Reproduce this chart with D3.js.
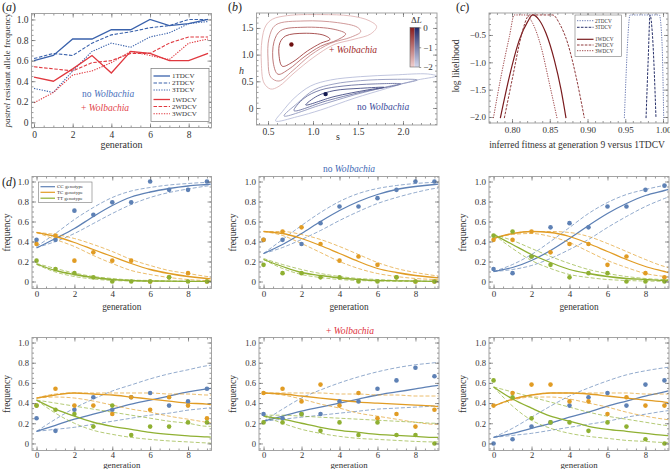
<!DOCTYPE html>
<html><head><meta charset="utf-8">
<script src="https://cdn.jsdelivr.net/npm/d3@7"></script>
<style>
body{margin:0;background:#fff}
svg text{font-family:"Liberation Serif","DejaVu Serif",serif;}
</style></head><body>
<svg id="c" width="670" height="469"></svg>
<script>
// ---------------- DATA ----------------
// Panel (a): pastrel resistant allele frequency per generation
const gens = [0,1,2,3,4,5,6,7,8,9];
const tdcv1 = [0.60,0.65,0.81,0.81,0.90,0.90,1.00,0.94,0.96,1.00];
const tdcv2 = [0.62,0.67,0.65,0.77,0.85,0.88,0.92,0.94,1.00,1.00];
const tdcv3 = [0.33,0.29,0.50,0.69,0.77,0.73,0.83,0.87,0.96,0.98];
const wdcv1 = [0.44,0.40,0.52,0.65,0.48,0.69,0.67,0.60,0.60,0.67];
const wdcv2 = [0.54,0.52,0.50,0.58,0.60,0.67,0.67,0.77,0.83,0.83];
const wdcv3 = [0.19,0.29,0.46,0.50,0.58,0.69,0.65,0.61,0.77,0.81];
const seriesNamesA = ['1TDCV','2TDCV','3TDCV','1WDCV','2WDCV','3WDCV'];
const genTicks = [0,2,4,6,8];
const freqTicks = [0,0.2,0.4,0.6,0.8,1.0];

// Panel (b): likelihood contours in (s, h), levels of ΔL
const contourLevels = [-2,-1.5,-1,-0.5];
const redMax = [0.76,1.19];
const blueMax = [1.14,0.26];
const redC2  = [[0.548,1.6625],[0.715,1.731],[1.085,1.75],[1.419,1.725],[1.622,1.6375],[1.707,1.525],[1.641,1.3875],[1.456,1.2875],[1.233,1.187],[1.011,0.955],[0.789,0.655],[0.622,0.407],[0.530,0.355],[0.456,0.467],[0.426,0.842],[0.433,1.275],[0.474,1.5375]];
const redC15 = [[0.585,1.556],[0.9,1.631],[1.27,1.6],[1.493,1.5125],[1.53,1.431],[1.419,1.325],[1.196,1.2125],[0.974,0.992],[0.770,0.692],[0.622,0.505],[0.530,0.579],[0.5,0.917],[0.511,1.306]];
const redC1  = [[0.641,1.45],[0.9,1.5125],[1.233,1.475],[1.363,1.3875],[1.27,1.275],[1.085,1.157],[0.9,0.955],[0.733,0.729],[0.611,0.632],[0.559,0.842],[0.567,1.244]];
const redC05 = [[0.696,1.35],[0.9,1.4],[1.122,1.3625],[1.189,1.2875],[1.085,1.2125],[0.937,1.067],[0.770,0.857],[0.659,0.782],[0.622,0.992],[0.633,1.225]];
const blueC2  = [[0.585,-0.244],[0.826,-0.1625],[1.085,-0.0375],[1.456,0.181],[1.826,0.369],[2.122,0.5125],[2.374,0.6],[2.27,0.6375],[1.9,0.619],[1.53,0.5875],[1.196,0.525],[0.974,0.4125],[0.789,0.181],[0.659,-0.069]];
const blueC15 = [[0.678,-0.15],[1.085,0.056],[1.456,0.244],[1.826,0.4],[2.159,0.525],[1.9,0.5375],[1.53,0.5125],[1.233,0.45],[1.011,0.3375],[0.826,0.0875]];
const blueC1  = [[0.789,-0.05],[1.159,0.1375],[1.53,0.294],[1.974,0.45],[1.678,0.45],[1.344,0.4125],[1.085,0.3375],[0.9,0.181]];
const blueC05 = [[0.919,0.056],[1.233,0.2125],[1.604,0.3375],[1.789,0.3875],[1.53,0.369],[1.233,0.325],[1.048,0.225]];
const sTicks = [0.5,1.0,1.5,2.0];
const hTicks = [0,0.5,1.0,1.5];
const barTicks = [0,-1,-2];

// Panel (c): profile log likelihood vs inferred fitness
const c2TDCV = [[0.9488,-2.02],[0.951,-1.26],[0.9532,-0.6],[0.9563,-0.134],[0.9951,-0.134],[0.9987,-0.65],[1.0009,-2.02]];
const c3TDCV = [[0.9775,-2.02],[0.9805,-0.9],[0.9828,-0.134],[0.986,-0.5],[0.9907,-2.02]];
const c1WDCV = [[0.7845,-2.02],[0.7965,-1.26],[0.8097,-0.59],[0.8207,-0.256],[0.8274,-0.134],[0.836,-0.226],[0.845,-0.47],[0.856,-0.957],[0.865,-1.506],[0.8715,-2.02]];
const c2WDCV = [[0.7898,-2.02],[0.801,-1.26],[0.812,-0.53],[0.8207,-0.165],[0.823,-0.134],[0.854,-0.134],[0.8627,-0.287],[0.8737,-0.65],[0.8848,-1.26],[0.8958,-2.02]];
const c3WDCV = [[0.7753,-2.02],[0.7854,-1.26],[0.7965,-0.53],[0.803,-0.134],[0.8185,-0.134],[0.8274,-0.287],[0.8384,-0.713],[0.8494,-1.38],[0.8596,-2.02]];
const fitTicks = [0.80,0.85,0.90,0.95,1.00];
const llTicks = [-0.5,-1.0,-1.5,-2.0];

// Panel (d): genotype counts (out of N) per replicate, and fitted curves
const N = 24;
const replicateOrder = ['1TDCV','2TDCV','3TDCV','1WDCV','2WDCV','3WDCV'];
const ccCounts = [
 [10,10,17,16,19,19,24,22,22,24],
 [10,10,9,14,18,18,20,22,24,24],
 [3,2,6,13,14,13,18,18,22,23],
 [6,3,8,11,8,11,12,9,10,13],
 [7,6,7,7,10,10,13,15,18,16],
 [0,1,4,5,9,11,12,9,14,15]];
const tcCounts = [
 [9,11,5,7,5,5,0,1,2,0],
 [10,12,13,9,5,6,4,1,0,0],
 [10,10,12,7,9,9,4,6,2,1],
 [9,13,9,9,7,11,8,11,9,6],
 [12,13,10,14,9,12,6,7,4,8],
 [9,12,14,14,10,10,7,11,9,9]];
const ttCounts = [
 [5,3,2,1,0,0,0,1,0,0],
 [4,2,2,1,1,0,0,1,0,0],
 [11,12,6,4,1,2,2,0,0,0],
 [9,8,7,4,9,2,4,4,5,5],
 [5,5,7,3,5,2,5,2,2,0],
 [15,11,6,5,5,3,5,4,1,0]];
const fitGens = [0,1,2,3,4,5,6,7,8,9,9.2];
const ccFit = [
 [0.335,0.43,0.53,0.65,0.76,0.845,0.895,0.93,0.955,0.97,0.973],
 [0.28,0.37,0.48,0.60,0.71,0.80,0.87,0.92,0.95,0.97,0.973],
 [0.10,0.14,0.21,0.31,0.43,0.56,0.68,0.78,0.86,0.91,0.92],
 [0.12,0.18,0.24,0.29,0.34,0.39,0.43,0.47,0.51,0.54,0.545],
 [0.22,0.27,0.32,0.36,0.40,0.44,0.48,0.51,0.54,0.57,0.575],
 [0.06,0.10,0.15,0.20,0.26,0.31,0.37,0.42,0.47,0.51,0.52]];
const ccUp = [
 [0.35,0.48,0.62,0.74,0.84,0.905,0.94,0.965,0.98,0.99,0.99],
 [0.28,0.42,0.56,0.69,0.80,0.88,0.93,0.96,0.98,0.99,0.99],
 [0.10,0.17,0.27,0.40,0.54,0.68,0.79,0.87,0.92,0.96,0.965],
 [0.12,0.24,0.35,0.44,0.52,0.58,0.64,0.69,0.73,0.77,0.775],
 [0.22,0.34,0.45,0.53,0.60,0.66,0.71,0.75,0.78,0.80,0.805],
 [0.06,0.15,0.26,0.37,0.47,0.55,0.62,0.68,0.72,0.75,0.755]];
const ccLo = [
 [0.34,0.40,0.48,0.58,0.68,0.77,0.84,0.89,0.925,0.955,0.96],
 [0.28,0.34,0.42,0.51,0.61,0.70,0.78,0.84,0.89,0.93,0.935],
 [0.10,0.12,0.16,0.23,0.32,0.42,0.54,0.65,0.75,0.83,0.845],
 [0.12,0.14,0.16,0.19,0.22,0.25,0.28,0.30,0.33,0.35,0.355],
 [0.22,0.24,0.26,0.28,0.30,0.32,0.34,0.35,0.36,0.37,0.372],
 [0.06,0.08,0.10,0.13,0.16,0.19,0.22,0.26,0.29,0.32,0.325]];
const tcFit = [
 [0.49,0.45,0.39,0.32,0.25,0.18,0.12,0.08,0.05,0.03,0.027],
 [0.50,0.48,0.43,0.36,0.28,0.20,0.13,0.09,0.06,0.04,0.037],
 [0.43,0.48,0.50,0.49,0.45,0.38,0.30,0.22,0.15,0.10,0.09],
 [0.45,0.48,0.50,0.49,0.48,0.46,0.44,0.42,0.40,0.39,0.385],
 [0.50,0.49,0.47,0.45,0.43,0.41,0.40,0.39,0.38,0.37,0.365],
 [0.37,0.44,0.48,0.50,0.50,0.49,0.47,0.45,0.43,0.41,0.405]];
const tcUp = [
 [0.49,0.47,0.43,0.37,0.30,0.22,0.16,0.11,0.08,0.05,0.045],
 [0.50,0.50,0.47,0.42,0.35,0.27,0.19,0.13,0.09,0.06,0.055],
 [0.43,0.48,0.50,0.50,0.49,0.45,0.38,0.30,0.22,0.15,0.14],
 [0.45,0.49,0.50,0.50,0.50,0.50,0.50,0.49,0.49,0.48,0.48],
 [0.50,0.50,0.50,0.50,0.49,0.49,0.48,0.48,0.47,0.47,0.47],
 [0.37,0.44,0.48,0.50,0.50,0.50,0.50,0.50,0.49,0.49,0.49]];
const tcLo = [
 [0.49,0.42,0.35,0.26,0.18,0.11,0.07,0.04,0.02,0.01,0.01],
 [0.50,0.46,0.38,0.29,0.20,0.13,0.08,0.05,0.03,0.02,0.018],
 [0.43,0.47,0.48,0.45,0.39,0.30,0.21,0.14,0.08,0.05,0.045],
 [0.45,0.46,0.45,0.42,0.38,0.34,0.31,0.27,0.24,0.21,0.205],
 [0.50,0.48,0.44,0.39,0.35,0.30,0.27,0.24,0.21,0.19,0.19],
 [0.37,0.43,0.46,0.46,0.44,0.40,0.36,0.31,0.27,0.24,0.235]];
const ttFit = [
 [0.175,0.11,0.07,0.04,0.02,0.01,0.005,0.003,0.002,0.001,0.001],
 [0.22,0.15,0.09,0.06,0.035,0.02,0.01,0.007,0.004,0.002,0.002],
 [0.47,0.37,0.27,0.19,0.12,0.08,0.05,0.03,0.02,0.01,0.01],
 [0.43,0.34,0.27,0.21,0.17,0.14,0.11,0.09,0.075,0.065,0.063],
 [0.27,0.24,0.20,0.16,0.13,0.11,0.09,0.08,0.07,0.06,0.06],
 [0.56,0.44,0.35,0.27,0.22,0.17,0.14,0.12,0.10,0.08,0.078]];
const ttUp = [
 [0.18,0.13,0.085,0.05,0.03,0.015,0.01,0.005,0.003,0.002,0.002],
 [0.23,0.17,0.12,0.08,0.05,0.03,0.02,0.01,0.006,0.004,0.004],
 [0.47,0.41,0.33,0.25,0.18,0.12,0.08,0.05,0.03,0.02,0.02],
 [0.43,0.40,0.37,0.34,0.31,0.28,0.25,0.22,0.20,0.17,0.17],
 [0.28,0.28,0.27,0.26,0.25,0.24,0.23,0.22,0.21,0.20,0.20],
 [0.56,0.51,0.46,0.41,0.36,0.31,0.27,0.24,0.21,0.18,0.175]];
const ttLo = [
 [0.17,0.095,0.05,0.025,0.01,0.005,0.002,0.001,0,0,0],
 [0.22,0.13,0.07,0.04,0.02,0.01,0.005,0.002,0.001,0,0],
 [0.47,0.33,0.21,0.13,0.07,0.04,0.02,0.01,0.005,0.002,0.002],
 [0.43,0.30,0.20,0.13,0.09,0.06,0.04,0.025,0.015,0.005,0.004],
 [0.27,0.20,0.14,0.10,0.07,0.05,0.04,0.03,0.02,0.015,0.015],
 [0.56,0.37,0.23,0.15,0.10,0.07,0.05,0.03,0.02,0.01,0.01]];
const genotypeNames = ['CC genotype','TC genotype','TT genotype'];

// ---------------- DRAWING ----------------
const svg = d3.select('#c');
const FRAME = '#9a9a9a', TICK = '#555', TXT = '#333';
const SERIF = '"Liberation Serif","DejaVu Serif",serif';
let clipId = 0;

function minorTicks(domain, step){
  const [a,b] = domain[0] < domain[1] ? domain : [domain[1],domain[0]];
  return d3.range(Math.ceil(a/step)*step, b+1e-9, step).map(v=>+v.toFixed(6));
}
function frameAxes(g, x, y, o){
  const [xa, xb] = x.range(), [ya, yb] = y.range();
  const mk = (fn, sc, vals, size, fmt, tr, pad) => {
    const ax = fn(sc).tickValues(vals).tickSize(-size).tickPadding(pad).tickFormat(fmt);
    const s = g.append('g').attr('transform', tr).call(ax);
    s.select('.domain').remove();
    s.selectAll('line').attr('stroke', TICK).attr('stroke-width', 0.6);
    s.selectAll('text').attr('font-family', SERIF).attr('font-size', o.fs || 9).attr('fill', TXT);
  };
  const none = () => '';
  mk(d3.axisBottom, x, o.xt, 4, o.fx, `translate(0,${ya})`, o.xpad == null ? 3.5 : o.xpad);
  mk(d3.axisBottom, x, o.xm, 2, none, `translate(0,${ya})`, 0);
  mk(d3.axisTop, x, o.xt, 4, none, `translate(0,${yb})`, 0);
  mk(d3.axisTop, x, o.xm, 2, none, `translate(0,${yb})`, 0);
  mk(d3.axisLeft, y, o.yt, 4, o.fy, `translate(${xa},0)`, 3);
  mk(d3.axisLeft, y, o.ym, 2, none, `translate(${xa},0)`, 0);
  mk(d3.axisRight, y, o.yt, 4, none, `translate(${xb},0)`, 0);
  mk(d3.axisRight, y, o.ym, 2, none, `translate(${xb},0)`, 0);
  g.append('rect').attr('x', xa).attr('y', yb).attr('width', xb-xa).attr('height', ya-yb)
    .attr('fill','none').attr('stroke', FRAME).attr('stroke-width', 0.9);
}
function clipFor(g, x, y){
  const id = 'clip' + (clipId++);
  const [xa, xb] = x.range(), [ya, yb] = y.range();
  g.append('clipPath').attr('id', id).append('rect').attr('x', xa).attr('y', yb).attr('width', xb-xa).attr('height', ya-yb);
  return g.append('g').attr('clip-path', `url(#${id})`);
}
const fmtFreq = d => d === 0 ? '0' : d3.format('.1f')(d);
function panelLabel(x, y, letter){
  const t = svg.append('text').attr('x', x).attr('y', y).attr('font-size', 12).attr('fill', '#222');
  t.append('tspan').text('(');
  t.append('tspan').attr('font-style','italic').text(letter);
  t.append('tspan').text(')');
}
function wolText(g, x, y, prefix, color, fs, anchor){
  const t = g.append('text').attr('x', x).attr('y', y).attr('font-size', fs).attr('fill', color).attr('text-anchor', anchor || 'start');
  t.append('tspan').text(prefix);
  t.append('tspan').attr('font-style','italic').text('Wolbachia');
  return t;
}

// ---------- Panel (a) ----------
{
  const g = svg.append('g');
  const x = d3.scaleLinear().domain([-0.13, 9.18]).range([31.5, 211.5]);
  const y = d3.scaleLinear().domain([-0.05, 1.058]).range([127.5, 13.5]);
  const blue = '#3a62ac', red = '#e0383f';
  const styles = [
    {d: tdcv1, c: blue, dash: null, w: 1.3},
    {d: tdcv2, c: blue, dash: '3.5,1.6', w: 1.1},
    {d: tdcv3, c: blue, dash: '1.3,1.3', w: 1.1},
    {d: wdcv1, c: red, dash: null, w: 1.3},
    {d: wdcv2, c: red, dash: '3.5,1.6', w: 1.1},
    {d: wdcv3, c: red, dash: '1.3,1.3', w: 1.1}];
  const cg = clipFor(g, x, y);
  const line = d3.line().x((d,i)=>x(gens[i])).y(d=>y(d));
  styles.forEach(s => cg.append('path').attr('d', line(s.d)).attr('fill','none')
    .attr('stroke', s.c).attr('stroke-width', s.w).attr('stroke-dasharray', s.dash));
  frameAxes(g, x, y, {xt: genTicks, xm: minorTicks(x.domain(), 0.5), yt: freqTicks, ym: minorTicks(y.domain(), 0.05), fx: d3.format('d'), fy: fmtFreq, fs: 9.5});
  const lg = g.append('g');
  lg.append('rect').attr('x',151).attr('y',68.5).attr('width',58).attr('height',53).attr('fill','#fff').attr('stroke','#777').attr('stroke-width',0.7);
  const ly = [76, 83, 90, 99.5, 106.5, 113.8];
  styles.forEach((s,i) => {
    lg.append('line').attr('x1',153.5).attr('x2',170).attr('y1',ly[i]).attr('y2',ly[i])
      .attr('stroke', s.c).attr('stroke-width', s.w).attr('stroke-dasharray', s.dash);
    lg.append('text').attr('x',172).attr('y',ly[i]+2.4).attr('font-size',7).attr('fill','#333').text(seriesNamesA[i]);
  });
  wolText(g, 82, 97, 'no ', '#4a70bb', 9.5);
  wolText(g, 81, 111, '+ ', '#e2434a', 9.5);
  g.append('text').attr('x', 121.5).attr('y', 148).attr('text-anchor','middle').attr('font-size',10).attr('fill',TXT).text('generation');
  const yl = g.append('text').attr('transform','translate(9.5,70) rotate(-90)').attr('text-anchor','middle').attr('font-size',8.8).attr('fill',TXT);
  yl.append('tspan').attr('font-style','italic').text('pastrel');
  yl.append('tspan').text(' resistant allele frequency');
  panelLabel(2, 11, 'a');
}

// ---------- Panel (b) ----------
{
  const g = svg.append('g');
  const x = d3.scaleLinear().domain([0.372, 2.378]).range([256.5, 437]);
  const y = d3.scaleLinear().domain([-0.319, 1.78]).range([125, 13]);
  const redCol = d3.scaleLinear().domain([-2, 0]).range(['#f0d0d0', '#8a1c1c']);
  const blueCol = d3.scaleLinear().domain([-2, 0]).range(['#d4d8ee', '#1f2868']);
  const cg = clipFor(g, x, y);
  const cl = d3.line().x(d=>x(d[0])).y(d=>y(d[1])).curve(d3.curveCatmullRomClosed.alpha(0.5));
  const reds = [redC2, redC15, redC1, redC05], blues = [blueC2, blueC15, blueC1, blueC05];
  reds.forEach((c,i) => cg.append('path').attr('d', cl(c)).attr('fill','none').attr('stroke', redCol(contourLevels[i] * 0.85)).attr('stroke-width', 0.9));
  blues.forEach((c,i) => cg.append('path').attr('d', cl(c)).attr('fill','none').attr('stroke', blueCol(contourLevels[i] * 0.85)).attr('stroke-width', 0.9));
  cg.append('circle').attr('cx', x(redMax[0])).attr('cy', y(redMax[1])).attr('r', 2.2).attr('fill', '#6e1010');
  cg.append('circle').attr('cx', x(blueMax[0])).attr('cy', y(blueMax[1])).attr('r', 2.2).attr('fill', '#141a50');
  frameAxes(g, x, y, {xt: sTicks, xm: minorTicks(x.domain(), 0.1), yt: hTicks, ym: minorTicks(y.domain(), 0.1), fx: d3.format('.1f'), fy: d => d === 0 ? '0' : d3.format('.1f')(d), fs: 9.5});
  wolText(g, 329, 53, '+ ', '#a02a2a', 9.5);
  wolText(g, 357, 110, 'no ', '#3a4a9a', 9.5);
  g.append('text').attr('x', 338).attr('y', 140).attr('font-size',10).attr('fill',TXT).attr('text-anchor','middle').text('s');
  g.append('text').attr('x', 239).attr('y', 74).attr('font-size',10).attr('fill',TXT).attr('font-style','italic').text('h');
  const cb = d3.scaleLinear().domain([-2, 0]).range([67, 27.5]);
  const defs = g.append('defs');
  const gr1 = defs.append('linearGradient').attr('id','gRed').attr('x1',0).attr('y1',0).attr('x2',0).attr('y2',1);
  gr1.append('stop').attr('offset',0).attr('stop-color', redCol(0));
  gr1.append('stop').attr('offset',1).attr('stop-color', redCol(-2));
  const gr2 = defs.append('linearGradient').attr('id','gBlue').attr('x1',0).attr('y1',0).attr('x2',0).attr('y2',1);
  gr2.append('stop').attr('offset',0).attr('stop-color', blueCol(0));
  gr2.append('stop').attr('offset',1).attr('stop-color', blueCol(-2));
  g.append('rect').attr('x',410).attr('y',cb(0)).attr('width',4.6).attr('height',cb(-2)-cb(0)).attr('fill','url(#gRed)');
  g.append('rect').attr('x',414.6).attr('y',cb(0)).attr('width',4.6).attr('height',cb(-2)-cb(0)).attr('fill','url(#gBlue)');
  g.append('rect').attr('x',410).attr('y',cb(0)).attr('width',9.2).attr('height',cb(-2)-cb(0)).attr('fill','none').attr('stroke','#666').attr('stroke-width',0.6);
  const cbAx = g.append('g').attr('transform','translate(419.2,0)').call(d3.axisRight(cb).tickValues(barTicks).tickSize(2).tickPadding(2).tickFormat(d3.format('d')));
  cbAx.select('.domain').remove();
  cbAx.selectAll('line').attr('stroke','#555').attr('stroke-width',0.6);
  cbAx.selectAll('text').attr('font-family',SERIF).attr('font-size',9).attr('fill',TXT);
  const dl = g.append('text').attr('x', 411).attr('y', 23).attr('font-size', 9).attr('fill', TXT);
  dl.append('tspan').text('Δ'); dl.append('tspan').attr('font-style','italic').text('L');
  panelLabel(228, 11, 'b');
}

// ---------- Panel (c) ----------
{
  const g = svg.append('g');
  const x = d3.scaleLinear().domain([0.7695, 1.0066]).range([489, 668]);
  const y = d3.scaleLinear().domain([-2.11, -0.098]).range([123, 13]);
  const styles = [
    {d: c2TDCV, c: '#6d7db4', dash: '1.3,1.2', w: 1.0, n: '2TDCV'},
    {d: c3TDCV, c: '#27306a', dash: '2.6,1.3', w: 1.0, n: '3TDCV'},
    {d: c1WDCV, c: '#7a1b1e', dash: null, w: 1.2, n: '1WDCV'},
    {d: c2WDCV, c: '#8f3a3c', dash: '2.6,1.3', w: 1.0, n: '2WDCV'},
    {d: c3WDCV, c: '#a0494c', dash: '1.3,1.2', w: 1.0, n: '3WDCV'}];
  const cg = clipFor(g, x, y);
  const line = d3.line().x(d=>x(d[0])).y(d=>y(d[1])).curve(d3.curveMonotoneX);
  styles.forEach(s => cg.append('path').attr('d', line(s.d)).attr('fill','none').attr('stroke', s.c).attr('stroke-width', s.w).attr('stroke-dasharray', s.dash));
  frameAxes(g, x, y, {xt: fitTicks, xm: minorTicks(x.domain(), 0.01), yt: llTicks, ym: minorTicks(y.domain(), 0.1), fx: d3.format('.2f'), fy: d3.format('.1f'), fs: 9});
  const lg = g.append('g');
  lg.append('rect').attr('x',575).attr('y',15).attr('width',46.5).attr('height',41.5).attr('fill','#fff').attr('stroke','#777').attr('stroke-width',0.6);
  const ly = [20.7, 27.3, 39.3, 45, 50.7];
  styles.forEach((s,i) => {
    lg.append('line').attr('x1',577).attr('x2',593.5).attr('y1',ly[i]).attr('y2',ly[i]).attr('stroke', s.c).attr('stroke-width', s.w).attr('stroke-dasharray', s.dash);
    lg.append('text').attr('x',595).attr('y',ly[i]+1.8).attr('font-size',5.2).attr('fill','#333').text(s.n);
  });
  g.append('text').attr('x', 577).attr('y', 148).attr('text-anchor','middle').attr('font-size',9.5).attr('fill',TXT).text('inferred fitness at generation 9 versus 1TDCV');
  g.append('text').attr('transform','translate(459,66) rotate(-90)').attr('text-anchor','middle').attr('font-size',9.5).attr('fill',TXT).text('log likelihood');
  panelLabel(456, 11, 'c');
}

// ---------- Panel (d) ----------
{
  const cols = [[32, 211.5], [259, 439], [489, 669]];
  const rows = [[288.5, 176.5], [450.5, 337.5]];
  const xlabY = [309.5, 468.3];
  const xpads = [2.5, 1.8];
  const ylabX = [9.5, 236, 466];
  const gColors = ['#5e81b5', '#e19c24', '#8fb032'];
  const counts = [ccCounts, tcCounts, ttCounts];
  const fits = [[ccFit, ccUp, ccLo], [tcFit, tcUp, tcLo], [ttFit, ttUp, ttLo]];
  replicateOrder.forEach((name, k) => {
    const r = Math.floor(k / 3), c = k % 3;
    const g = svg.append('g');
    const x = d3.scaleLinear().domain([-0.24, 9.24]).range(cols[c]);
    const y = d3.scaleLinear().domain([-0.07, 1.05]).range(rows[r]);
    const cg = clipFor(g, x, y);
    const line = d3.line().x((d,i)=>x(fitGens[i])).y(d=>y(d)).curve(d3.curveMonotoneX);
    fits.forEach((set, gi) => {
      cg.append('path').attr('d', line(set[1][k])).attr('fill','none').attr('stroke', gColors[gi]).attr('stroke-width', 0.9).attr('stroke-dasharray','4,2').attr('opacity',0.75);
      cg.append('path').attr('d', line(set[2][k])).attr('fill','none').attr('stroke', gColors[gi]).attr('stroke-width', 0.9).attr('stroke-dasharray','4,2').attr('opacity',0.75);
      cg.append('path').attr('d', line(set[0][k])).attr('fill','none').attr('stroke', gColors[gi]).attr('stroke-width', 1.3);
    });
    counts.forEach((cnt, gi) => {
      cg.selectAll(null).data(cnt[k]).join('circle')
        .attr('cx', (d,i) => x(gens[i])).attr('cy', d => y(d / N)).attr('r', 2.3).attr('fill', gColors[gi]);
    });
    frameAxes(g, x, y, {xt: genTicks, xm: minorTicks(x.domain(), 0.5), yt: freqTicks, ym: minorTicks(y.domain(), 0.05), fx: d3.format('d'), fy: fmtFreq, fs: r === 0 ? 9 : 8.6, xpad: xpads[r]});
    const cx = (cols[c][0] + cols[c][1]) / 2;
    g.append('text').attr('x', cx).attr('y', xlabY[r]).attr('text-anchor','middle').attr('font-size', r === 0 ? 9.3 : 8.8).attr('fill',TXT).text('generation');
    g.append('text').attr('transform', `translate(${ylabX[c]},${(rows[r][0]+rows[r][1])/2}) rotate(-90)`).attr('text-anchor','middle').attr('font-size',9.5).attr('fill',TXT).text('frequency');
    if (k === 0) {
      const lg = g.append('g');
      lg.append('rect').attr('x',38.5).attr('y',182).attr('width',53.5).attr('height',20.5).attr('fill','#fff').attr('stroke','#777').attr('stroke-width',0.6);
      const ly = [186.7, 192.3, 198.2];
      genotypeNames.forEach((n,i) => {
        lg.append('line').attr('x1',40.5).attr('x2',55).attr('y1',ly[i]).attr('y2',ly[i]).attr('stroke', gColors[i]).attr('stroke-width',1.2);
        lg.append('text').attr('x',57).attr('y',ly[i]+1.7).attr('font-size',5).attr('fill','#333').text(n);
      });
    }
  });
  wolText(svg, 349, 172, 'no ', '#4068b4', 9.5, 'middle');
  wolText(svg, 350, 333.5, '+ ', '#e0323c', 9.5, 'middle');
  panelLabel(2, 186, 'd');
}
</script>
</body></html>
